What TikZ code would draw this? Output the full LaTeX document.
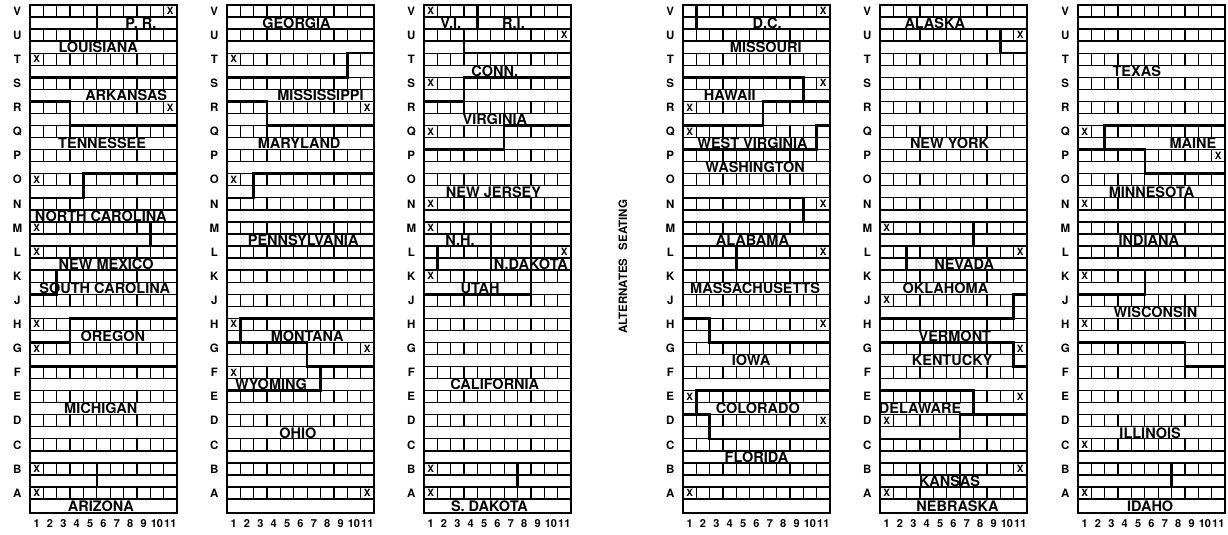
\documentclass[tikz,border=0pt]{standalone}
\usepackage{fontspec}
\setmainfont{TeX Gyre Heros}
\tikzset{
  seat/.style={line width=1.3pt},
  bnd/.style={line width=2.6pt, line cap=rect, line join=miter},
  lbl/.style={font=\bfseries\fontsize{14.5}{14.5}\selectfont, inner sep=0pt},
  rowl/.style={font=\bfseries\fontsize{11.5}{11.5}\selectfont, inner sep=0pt},
  xm/.style={font=\bfseries\fontsize{10}{10}\selectfont, inner sep=0pt},
  num/.style={font=\bfseries\fontsize{11}{11}\selectfont, inner sep=0pt},
  altl/.style={font=\bfseries\fontsize{11.5}{11.5}\selectfont, rotate=90, inner sep=0pt},
  blk/.style={x=13.36pt, y=-24.1pt},
}
\newcommand\seatgrid[1]{%
  \foreach \r [count=\i from 0] in {V,U,T,S,R,Q,P,O,N,M,L,K,J,H,G,F,E,D,C,B,A} {
    \draw[seat] (0,\i) rectangle (11,\i+0.5);
    \foreach \k in {1,...,10} \draw[seat] (\k,\i) -- (\k,\i+0.5);
    \node[rowl] (#1-\r) at (-0.95,\i+0.25) {\r};
  }
  \foreach \k in {1,...,11} \node[num] (#1-n\k) at (\k-0.5,21.5) {\k};
  \draw[bnd] (0,0) rectangle (11,21.08);
}
\newcommand\xat[3]{\node[xm] (#1-x#2-#3) at (#3-0.5,#2+0.25) {X};}
\begin{document}
\begin{tikzpicture}[x=1pt,y=-1pt]
\useasboundingbox (0,0) rectangle (1228,535);
% ---------------- block 1
\begin{scope}[shift={(30,5)},blk]
\seatgrid{a}
\draw[bnd] (5,0)--(5,1)--(11,1);
\draw[bnd] (0,3)--(11,3);
\draw[bnd] (0,4)--(3,4)--(3,5)--(11,5);
\draw[bnd] (0,8)--(4,8)--(4,7)--(11,7);
\draw[bnd] (0,10)--(9,10)--(9,9)--(11,9);
\draw[bnd] (11,11)--(2,11)--(2,12)--(0,12);
\draw[bnd] (0,14)--(3,14)--(3,13)--(11,13);
\draw[bnd] (0,15)--(11,15);
\draw[bnd] (0,20)--(5,20)--(5,19)--(11,19);
\xat{a}{0}{11}\xat{a}{2}{1}\xat{a}{4}{11}\xat{a}{7}{1}\xat{a}{9}{1}
\xat{a}{10}{1}\xat{a}{13}{1}\xat{a}{14}{1}\xat{a}{19}{1}\xat{a}{20}{1}
\node[lbl] (pr) at (8.3,0.75) {P. R.};
\node[lbl] (la) at (5.1,1.75) {LOUISIANA};
\node[lbl] (ar) at (7.2,3.75) {ARKANSAS};
\node[lbl] (tn) at (5.4,5.75) {TENNESSEE};
\node[lbl] (nc) at (5.3,8.75) {NORTH CAROLINA};
\node[lbl] (nm) at (5.7,10.75) {NEW MEXICO};
\node[lbl] (sc) at (5.6,11.75) {SOUTH CAROLINA};
\node[lbl] (or) at (6.2,13.75) {OREGON};
\node[lbl] (mi) at (5.3,16.75) {MICHIGAN};
\node[lbl] (az) at (5.3,20.79) {ARIZONA};
\end{scope}
% ---------------- block 2
\begin{scope}[shift={(227,5)},blk]
\seatgrid{b}
\draw[bnd] (0,3)--(9,3)--(9,2)--(11,2);
\draw[bnd] (0,4)--(3,4)--(3,5)--(11,5);
\draw[bnd] (0,8)--(2,8)--(2,7)--(11,7);
\draw[bnd] (0,14)--(1,14)--(1,13)--(11,13);
\draw[bnd] (1,14)--(6,14)--(6,15)--(11,15);
\draw[bnd] (7,15)--(7,16)--(0,16);
\xat{b}{2}{1}\xat{b}{4}{11}\xat{b}{7}{1}\xat{b}{13}{1}\xat{b}{14}{11}\xat{b}{15}{1}\xat{b}{20}{11}
\node[lbl] (ga) at (5.2,0.75) {GEORGIA};
\node[lbl] (ms) at (7.0,3.75) {MISSISSIPPI};
\node[lbl] (md) at (5.4,5.75) {MARYLAND};
\node[lbl] (pa) at (5.7,9.75) {PENNSYLVANIA};
\node[lbl] (mt) at (6.0,13.75) {MONTANA};
\node[lbl] (wy) at (3.3,15.75) {WYOMING};
\node[lbl] (oh) at (5.3,17.75) {OHIO};
\end{scope}
% ---------------- block 3
\begin{scope}[shift={(424,5)},blk]
\seatgrid{c}
\draw[bnd] (0,1)--(4,1)--(4,0);
\draw[bnd] (3,1)--(3,2)--(11,2);
\draw[bnd] (0,4)--(3,4)--(3,3)--(11,3);
\draw[bnd] (0,6)--(6,6)--(6,5)--(11,5);
\draw[bnd] (0,9)--(8,9)--(8,10)--(11,10);
\draw[bnd] (5,9)--(5,11);
\draw[bnd] (0,10)--(1,10)--(1,11)--(11,11);
\draw[bnd] (8,11)--(8,12)--(0,12);
\draw[bnd] (0,20)--(7,20)--(7,19)--(11,19);
\xat{c}{0}{1}\xat{c}{1}{11}\xat{c}{3}{1}\xat{c}{5}{1}\xat{c}{8}{1}
\xat{c}{9}{1}\xat{c}{10}{11}\xat{c}{11}{1}\xat{c}{19}{1}\xat{c}{20}{1}
\node[lbl] (vi) at (2.0,0.75) {V.I.};
\node[lbl] (ri) at (6.7,0.75) {R.I.};
\node[lbl] (ct) at (5.3,2.75) {CONN.};
\node[lbl] (va) at (5.3,4.75) {VIRGINIA};
\node[lbl] (nj) at (5.2,7.75) {NEW JERSEY};
\node[lbl] (nh) at (2.7,9.75) {N.H.};
\node[lbl] (nd) at (8.0,10.75) {N.DAKOTA};
\node[lbl] (ut) at (4.2,11.75) {UTAH};
\node[lbl] (ca) at (5.3,15.75) {CALIFORNIA};
\node[lbl] (sd) at (4.9,20.79) {S. DAKOTA};
\end{scope}
% ---------------- alternates
\node[altl] (alt) at (623,296) {ALTERNATES};
\node[altl] (seat) at (623,225) {SEATING};
% ---------------- block 4
\begin{scope}[shift={(683,5)},blk]
\seatgrid{d}
\draw[bnd] (1,0)--(1,1)--(11,1);
\draw[bnd] (0,3)--(9,3)--(9,4)--(11,4);
\draw[bnd] (9,4)--(6,4)--(6,5)--(0,5);
\draw[bnd] (0,6)--(10,6)--(10,5)--(11,5);
\draw[bnd] (0,8)--(9,8)--(9,9)--(11,9);
\draw[bnd] (0,10)--(4,10)--(4,11)--(11,11);
\draw[bnd] (0,13)--(2,13)--(2,14)--(11,14);
\draw[bnd] (11,16)--(1,16)--(1,17)--(0,17);
\draw[bnd] (1,17)--(2,17)--(2,18)--(11,18);
\xat{d}{0}{11}\xat{d}{3}{11}\xat{d}{4}{1}\xat{d}{5}{1}\xat{d}{8}{11}
\xat{d}{10}{11}\xat{d}{13}{11}\xat{d}{16}{1}\xat{d}{17}{11}\xat{d}{20}{1}
\node[lbl] (dc) at (6.3,0.75) {D.C.};
\node[lbl] (mo) at (6.2,1.75) {MISSOURI};
\node[lbl] (hi) at (3.5,3.75) {HAWAII};
\node[lbl] (wv) at (5.2,5.75) {WEST VIRGINIA};
\node[lbl] (wa) at (5.4,6.75) {WASHINGTON};
\node[lbl] (al) at (5.2,9.75) {ALABAMA};
\node[lbl] (ma) at (5.4,11.75) {MASSACHUSETTS};
\node[lbl] (ia) at (5.1,14.75) {IOWA};
\node[lbl] (co) at (5.6,16.75) {COLORADO};
\node[lbl] (fl) at (5.5,18.75) {FLORIDA};
\end{scope}
% ---------------- block 5
\begin{scope}[shift={(880,5)},blk]
\seatgrid{e}
\draw[bnd] (0,1)--(9,1)--(9,2)--(11,2);
\draw[bnd] (0,10)--(7,10)--(7,9)--(11,9);
\draw[bnd] (2,10)--(2,11)--(11,11);
\draw[bnd] (11,12)--(10,12)--(10,13)--(0,13);
\draw[bnd] (0,14)--(10,14)--(10,15)--(11,15);
\draw[bnd] (0,16)--(7,16)--(7,17)--(11,17);
\draw[bnd] (7,17)--(6,17)--(6,18)--(0,18);
\draw[bnd] (0,19)--(6,19)--(6,20)--(11,20);
\xat{e}{1}{11}\xat{e}{9}{1}\xat{e}{10}{11}\xat{e}{12}{1}\xat{e}{14}{11}
\xat{e}{16}{11}\xat{e}{17}{1}\xat{e}{19}{11}\xat{e}{20}{1}
\node[lbl] (ak) at (4.1,0.75) {ALASKA};
\node[lbl] (ny) at (5.2,5.75) {NEW YORK};
\node[lbl] (nv) at (6.3,10.75) {NEVADA};
\node[lbl] (ok) at (4.9,11.75) {OKLAHOMA};
\node[lbl] (vt) at (5.6,13.75) {VERMONT};
\node[lbl] (ky) at (5.4,14.75) {KENTUCKY};
\node[lbl] (de) at (3.0,16.75) {DELAWARE};
\node[lbl] (ks) at (5.2,19.75) {KANSAS};
\node[lbl] (ne) at (5.8,20.79) {NEBRASKA};
\end{scope}
% ---------------- block 6
\begin{scope}[shift={(1078,5)},blk]
\seatgrid{f}
\draw[bnd] (11,5)--(2,5)--(2,6)--(0,6);
\draw[bnd] (2,6)--(5,6)--(5,7)--(11,7);
\draw[bnd] (0,9)--(11,9);
\draw[bnd] (11,11)--(5,11)--(5,12)--(0,12);
\draw[bnd] (0,14)--(8,14)--(8,15)--(11,15);
\draw[bnd] (11,19)--(7,19)--(7,20)--(0,20);
\xat{f}{5}{1}\xat{f}{6}{11}\xat{f}{8}{1}\xat{f}{11}{1}\xat{f}{13}{1}\xat{f}{18}{1}\xat{f}{20}{1}
\node[lbl] (tx) at (4.4,2.75) {TEXAS};
\node[lbl] (me) at (8.6,5.75) {MAINE};
\node[lbl] (mn) at (5.5,7.75) {MINNESOTA};
\node[lbl] (in) at (5.3,9.75) {INDIANA};
\node[lbl] (wi) at (5.8,12.75) {WISCONSIN};
\node[lbl] (il) at (5.4,17.75) {ILLINOIS};
\node[lbl] (id) at (5.4,20.79) {IDAHO};
\end{scope}
\end{tikzpicture}
\end{document}
